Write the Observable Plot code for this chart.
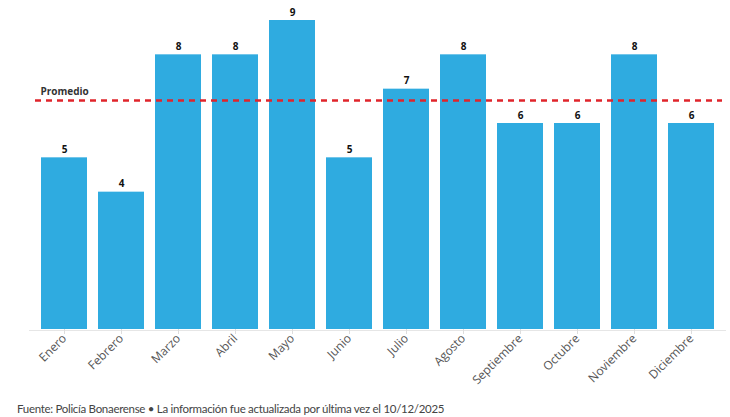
<!DOCTYPE html>
<html>
<head>
<meta charset="utf-8">
<script src="https://cdn.jsdelivr.net/npm/d3@7"></script>
<script src="https://cdn.jsdelivr.net/npm/@observablehq/plot@0.6"></script>
<style>
  body { margin: 0; background: #fff; }
  #chart svg { display: block; }
  #caption { font-family: Lato, sans-serif; font-size: 11.5px; letter-spacing: -0.3px; color: #444; padding: 9px 0 0 17px; line-height: 16px; }
</style>
</head>
<body>
<div id="chart"></div>
<div id="caption">Fuente: Policía Bonaerense • La información fue actualizada por última vez el 10/12/2025</div>
<script>
const months = ["Enero","Febrero","Marzo","Abril","Mayo","Junio","Julio","Agosto","Septiembre","Octubre","Noviembre","Diciembre"];
const values = [5,4,8,8,9,5,7,8,6,6,8,6];
const avgLabel = "Promedio";

const data = months.map((m, i) => ({month: m, value: values[i]}));
const avg = d3.mean(values);

const chart = Plot.plot({
  width: 730,
  height: 392,
  marginTop: 20,
  marginBottom: 63,
  marginLeft: 29,
  marginRight: 4,
  style: {fontFamily: "'Open Sans', sans-serif", background: "#fff"},
  x: {domain: months, padding: 0.2, label: null, axis: null},
  y: {domain: [0, 9], axis: null},
  marks: [
    Plot.ruleY([0], {stroke: "#e6e6e6", strokeWidth: 1, dy: 1}),
    Plot.barY(data, {x: "month", y: "value", fill: "#2fabe0"}),
    Plot.text(data, {x: "month", y: "value", text: d => String(d.value), dy: -8, fontWeight: 700, fontSize: 10, fill: "#111"}),
    Plot.ruleY([avg], {stroke: "#e0242b", strokeWidth: 2.5, strokeDasharray: "6,5", insetLeft: 6, insetRight: 4}),
    Plot.text([avg], {y: d => d, text: () => avgLabel, frameAnchor: "left", dx: 11, dy: -9, textAnchor: "start", fontWeight: 700, fontSize: 10, fill: "#333"}),
    Plot.axisX({tickRotate: -45, tickSize: 5, tickPadding: 2, stroke: "#ddd", fill: "#555", fontSize: 12, fontFamily: "'Open Sans', sans-serif", label: null})
  ]
});
document.getElementById("chart").appendChild(chart);
</script>
</body>
</html>
